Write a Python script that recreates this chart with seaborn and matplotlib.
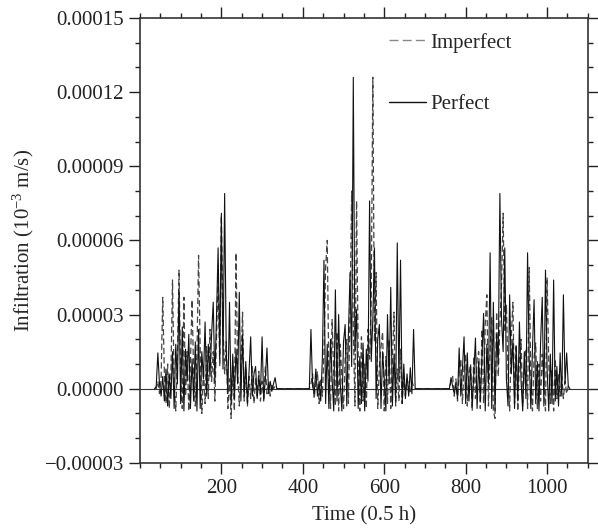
import numpy as np
import pandas as pd
import matplotlib
matplotlib.use("Agg")
import matplotlib.pyplot as plt
import matplotlib.ticker as mticker
import seaborn as sns

step = 4
window_starts = [36, 416, 760]

perfect_w1 = [0.0, 0.1, 1.45, 0.2, -0.3, 0.5, -0.5, 0.8, -0.7, 0.6,
              -0.4, 1.5, -0.8, 1.8, 0.2, 4.0, -0.6, 2.5, -0.9, 1.6,
              0.3, 2.2, -0.8, 1.2, -0.5, 1.9, -0.9, 2.4, -0.8, 1.5,
              0.4, 2.7, -0.3, 1.8, 0.5, 2.2, 3.5, 0.3, 2.9, 5.7,
              1.2, 7.1, 0.8, 7.9, 1.5, -0.2, 3.5, -0.6, 1.4, -0.4,
              1.6, 0.2, 3.9, -0.5, 2.2, -0.3, 1.1, -0.6, 0.7, 2.1,
              -0.3, 0.6, 0.9, -0.4, 0.5, -0.2, 2.1, -0.5, 0.4, 1.65,
              -0.2, 0.3, -0.1, 0.2, 0.45, 0.0]
imperfect_w1 = [0.0, 0.0, 0.3, -0.2, 0.4, 3.7, 0.6, -0.6, 1.0, -0.8,
                0.5, 4.4, 0.2, -0.9, 1.2, 4.8, 0.4, -0.8, 3.7, -0.3,
                1.5, -0.9, 1.0, 3.6, 0.5, -0.7, 1.4, 5.4, 1.6, -1.0,
                0.8, -0.6, 1.7, -0.4, 2.4, 0.3, 1.5, -0.5, 2.0, 4.6,
                0.9, 7.0, 2.5, 0.6, 1.9, -0.8, 0.4, -1.2, 0.9, -0.9,
                5.5, 0.7, -0.7, 0.9, 3.1, -0.5, 0.8, -0.7, 0.5, -0.4,
                0.9, -0.6, 0.4, -0.3, 0.7, -0.5, 0.3, -0.4, 0.9, -0.2,
                0.3, -0.3, 0.2, 0.0, 0.1, 0.0]

perfect_w2 = [0.0, 2.4, 0.1, -0.2, 0.8, -0.3, 0.3, -0.5, 1.2, 5.2,
              -0.6, 1.8, -0.8, 2.0, 0.4, -0.9, 4.0, -0.5, 3.0, 0.2,
              -0.9, 1.9, 2.6, -0.7, 2.2, 4.7, 0.9, 12.6, 1.5, 3.2,
              -0.8, 1.3, -0.6, 1.85, -0.9, 1.6, 0.3, 7.6, 1.1, 2.8,
              5.7, -0.4, 2.0, 2.6, -0.8, 1.5, 0.4, -0.9, 3.0, 0.2,
              4.1, -0.7, 1.4, -0.5, 5.9, 0.3, 5.2, -0.6, 1.0, -0.4,
              0.6, -0.3, 0.85, -0.2, 2.4, 0.0]
imperfect_w2 = [0.0, 0.2, 0.6, -0.4, 0.3, 0.7, -0.6, 0.4, -0.3, 1.5,
                4.9, 6.0, 0.5, -0.8, 2.8, 0.6, -0.7, 2.3, -0.9, 1.8,
                0.4, -0.8, 1.2, 2.0, -0.6, 3.1, 8.0, 2.5, -0.7, 7.6,
                1.4, -0.9, 2.1, -0.5, 1.0, -0.8, 2.4, 1.2, 3.5, 12.6,
                1.9, 4.7, -0.8, 0.9, 1.7, 2.3, -0.9, 1.3, -0.6, 2.0,
                -0.8, 1.1, 3.1, -0.7, 0.8, -0.5, 1.6, -0.6, 0.5, -0.3,
                0.4, 0.1, -0.2, 0.3, 0.1, 0.0]

perfect_w3 = [0.0, 0.45, 0.1, -0.2, 0.2, -0.4, 1.65, -0.3, 0.8, 2.1,
              -0.6, 1.45, -0.5, 0.9, -0.7, 0.6, 2.05, -0.8, 1.1, -0.5,
              1.3, 3.05, -0.9, 1.8, 0.2, 5.5, -0.8, 3.5, -0.9, 2.2,
              1.0, 7.9, 2.8, 1.5, 5.7, 0.4, -0.7, 3.8, 0.6, 2.0,
              -0.8, 1.7, -0.5, 2.7, 0.3, -0.9, 1.5, -0.4, 5.5, 1.2,
              -0.8, 1.6, 3.6, -0.6, 1.1, -0.9, 1.9, 3.7, -0.7, 4.8,
              0.8, -0.9, 1.4, -0.6, 4.4, -0.5, 0.9, -0.7, 1.45, -0.3,
              3.8, 0.2, 1.45, 0.1, 0.0]
imperfect_w3 = [0.0, 0.3, 0.5, -0.3, 0.4, -0.5, 0.7, 1.2, -0.6, 0.9,
                1.4, -0.7, 0.6, 1.0, -0.9, 1.3, -0.4, 1.2, 1.5, -0.8,
                2.4, -0.6, 2.6, 3.8, -0.7, 1.6, 2.9, -0.9, -1.2, 3.1,
                0.5, 2.6, 4.2, 7.1, 2.3, 3.4, 0.6, -0.9, 2.1, 3.5,
                -0.6, 1.8, -0.9, 1.2, 2.0, -0.7, 0.9, 1.6, -0.8, 4.9,
                0.5, -0.9, 1.3, 1.85, -0.8, 1.0, -0.5, 1.4, 0.3, -0.9,
                4.5, 1.1, -0.6, 0.8, -0.9, 1.2, -0.4, 0.6, -0.3, 0.5,
                -0.4, 0.3, -0.2, 0.1, 0.0]


def build_frame(windows, label):
    parts = []
    for start, vals in zip(window_starts, windows):
        t = start + step * np.arange(len(vals))
        parts.append(pd.DataFrame({"time": t, "value": np.array(vals) * 1e-5}))
    df = pd.concat(parts, ignore_index=True)
    df["series"] = label
    return df


df_imp = build_frame([imperfect_w1, imperfect_w2, imperfect_w3], "Imperfect")
df_per = build_frame([perfect_w1, perfect_w2, perfect_w3], "Perfect")

sns.set_style("ticks")
plt.rcParams["font.family"] = ["Liberation Serif", "DejaVu Serif"]
plt.rcParams["mathtext.fontset"] = "custom"
plt.rcParams["mathtext.rm"] = "Liberation Serif"
plt.rcParams["mathtext.default"] = "regular"

fig = plt.figure(figsize=(5.98, 5.29), dpi=100)
ax = fig.add_axes([0.234, 0.125, 0.749, 0.841])

ax.axhline(0, color="#333333", lw=0.8, zorder=0)
sns.lineplot(data=df_imp, x="time", y="value", ax=ax, estimator=None, sort=False,
             color="#444444", lw=0.9, label="Imperfect")
ax.lines[-1].set_dashes([5, 2.5])
sns.lineplot(data=df_per, x="time", y="value", ax=ax, estimator=None, sort=False,
             color="#111111", lw=0.8, label="Perfect")

ax.set_xlim(0, 1100)
ax.set_ylim(-0.00003, 0.00015)
ax.xaxis.set_major_locator(mticker.FixedLocator([200, 400, 600, 800, 1000]))
ax.xaxis.set_minor_locator(mticker.MultipleLocator(50))
ax.yaxis.set_major_locator(mticker.MultipleLocator(0.00003))
ax.yaxis.set_minor_locator(mticker.MultipleLocator(0.00001))
ax.yaxis.set_major_formatter(mticker.FuncFormatter(
    lambda v, p: ("%.5f" % v).replace("-", "\u2212") if abs(v) > 1e-12 else "0.00000"))

ax.tick_params(which="both", direction="out", top=True, right=True,
               labelsize=15, colors="#222222", width=1.0)
ax.tick_params(which="major", length=8)
ax.tick_params(which="minor", length=3.5)
for s in ax.spines.values():
    s.set_linewidth(1.2)
    s.set_color("#333333")

ax.set_xlabel("Time (0.5 h)", fontsize=15, labelpad=6)
ax.set_ylabel(r"Infiltration (10$^{-3}$ m/s)", fontsize=15, labelpad=6)

leg = ax.legend(loc="upper left", bbox_to_anchor=(0.532, 0.99), frameon=False,
                fontsize=15, handlelength=1.8, handletextpad=0.2,
                labelspacing=2.0, borderpad=0)
for h in leg.get_lines():
    h.set_linewidth(1.0)
leg.get_lines()[0].set_color("#888888")
leg.get_lines()[0].set_dashes([6.5, 3])

fig.savefig("out.png", dpi=100)
